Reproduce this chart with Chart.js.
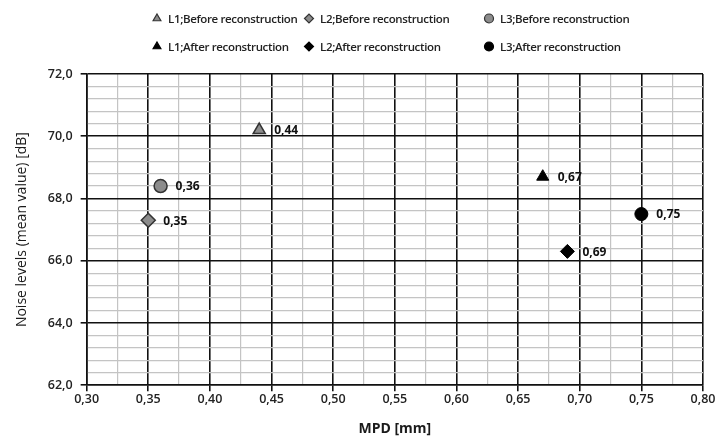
<!DOCTYPE html>
<html>
<head>
<meta charset="utf-8">
<script src="https://cdn.jsdelivr.net/npm/chart.js@4.4.1/dist/chart.umd.min.js"></script>
<style>
    html, body { margin: 0; padding: 0; background: #fff; }
    #wrap { position: relative; width: 718px; height: 441px; }
    #legend {
        position: absolute; left: 151px; top: 9px;
        display: grid; grid-template-columns: 152px 180px 200px; row-gap: 10px;
        font: 600 11.5px "Open Sans", sans-serif; color: #222; letter-spacing: -0.35px;
    }
    #legend .item { display: flex; align-items: center; height: 18px; white-space: nowrap; }
    #legend canvas { margin-right: 5px; }
</style>
</head>
<body>
<div id="wrap">
    <canvas id="chart" width="718" height="441"></canvas>
    <div id="legend"></div>
</div>
<script>
const lines = ['L1', 'L2', 'L3'];
const pointStyles = ['triangle', 'rectRot', 'circle'];
const mpdBefore = [0.44, 0.35, 0.36];
const noiseBefore = [70.2, 67.3, 68.4];
const mpdAfter = [0.67, 0.69, 0.75];
const noiseAfter = [68.7, 66.3, 67.5];

const fmt = (v, d) => v.toFixed(d).replace('.', ',');
const isMultiple = (v, step) => Math.abs(v / step - Math.round(v / step)) < 1e-6;

const datasets = [];
lines.forEach((l, i) => {
    datasets.push({
        label: l + ';Before reconstruction',
        data: [{x: mpdBefore[i], y: noiseBefore[i]}],
        pointStyle: pointStyles[i],
        pointRadius: i === 2 ? 6.5 : 7,
        backgroundColor: '#8c8c8c',
        borderColor: '#333',
        borderWidth: 1.5
    });
});
lines.forEach((l, i) => {
    datasets.push({
        label: l + ';After reconstruction',
        data: [{x: mpdAfter[i], y: noiseAfter[i]}],
        pointStyle: pointStyles[i],
        pointRadius: i === 2 ? 6.5 : 7,
        backgroundColor: '#000',
        borderColor: '#000',
        borderWidth: 1
    });
});

const valueLabels = {
    id: 'valueLabels',
    afterDatasetsDraw(chart) {
        const ctx = chart.ctx;
        ctx.save();
        ctx.font = 'bold 12px "Open Sans", sans-serif';
        ctx.fillStyle = '#111';
        ctx.textBaseline = 'middle';
        chart.data.datasets.forEach((ds, i) => {
            chart.getDatasetMeta(i).data.forEach((pt, j) => {
                ctx.fillText(fmt(ds.data[j].x, 2), pt.x + 15, pt.y + 1);
            });
        });
        ctx.restore();
    }
};

const tickFont = {family: '"Open Sans", sans-serif', size: 12.5, weight: '600'};

const chart = new Chart(document.getElementById('chart').getContext('2d'), {
    type: 'scatter',
    data: {datasets},
    options: {
        responsive: false,
        animation: false,
        layout: {padding: {top: 74, right: 15, left: 14, bottom: 4}},
        plugins: {legend: {display: false}, tooltip: {enabled: false}},
        scales: {
            x: {
                min: 0.3, max: 0.8,
                ticks: {
                    stepSize: 0.025, autoSkip: false, maxRotation: 0, padding: 1,
                    color: '#222', font: tickFont,
                    callback: v => isMultiple(v, 0.05) ? fmt(v, 2) : ''
                },
                grid: {
                    tickLength: 6,
                    color: c => isMultiple(c.tick.value, 0.05) ? '#111' : '#c4c4c4',
                    lineWidth: c => isMultiple(c.tick.value, 0.05) ? 1.6 : 1.2,
                    tickColor: c => isMultiple(c.tick.value, 0.05) ? '#111' : 'rgba(0,0,0,0)'
                },
                border: {color: '#111', width: 1.6},
                title: {
                    display: true, text: 'MPD [mm]', color: '#1a1a1a',
                    font: {family: '"Open Sans", sans-serif', size: 14, weight: 'bold'},
                    padding: {top: 12, bottom: 0}
                }
            },
            y: {
                min: 62, max: 72,
                ticks: {
                    stepSize: 0.4, autoSkip: false, padding: 8,
                    color: '#222', font: tickFont,
                    callback: v => isMultiple(v, 2) ? fmt(v, 1) : ''
                },
                grid: {
                    tickLength: 6,
                    color: c => isMultiple(c.tick.value, 2) ? '#111' : '#c4c4c4',
                    lineWidth: c => isMultiple(c.tick.value, 2) ? 1.6 : 1.2,
                    tickColor: c => isMultiple(c.tick.value, 2) ? '#111' : 'rgba(0,0,0,0)'
                },
                border: {color: '#111', width: 1.6},
                title: {
                    display: true, text: 'Noise levels (mean value) [dB]', color: '#1a1a1a',
                    font: {family: '"Open Sans", sans-serif', size: 14},
                    padding: {top: 0, bottom: 9}
                }
            }
        }
    },
    plugins: [valueLabels]
});

// legend in three columns, "before" row first
const legendEl = document.getElementById('legend');
chart.data.datasets.forEach(ds => {
    const item = document.createElement('div');
    item.className = 'item';
    const icon = document.createElement('canvas');
    icon.width = 12; icon.height = 12;
    const ictx = icon.getContext('2d');
    ictx.fillStyle = ds.backgroundColor;
    ictx.strokeStyle = ds.borderColor;
    ictx.lineWidth = 1.2;
    Chart.helpers.drawPoint(ictx, {pointStyle: ds.pointStyle, radius: 4.5, borderWidth: 1.2}, 6, 6.5);
    item.appendChild(icon);
    item.appendChild(document.createTextNode(ds.label));
    legendEl.appendChild(item);
});
</script>
</body>
</html>
